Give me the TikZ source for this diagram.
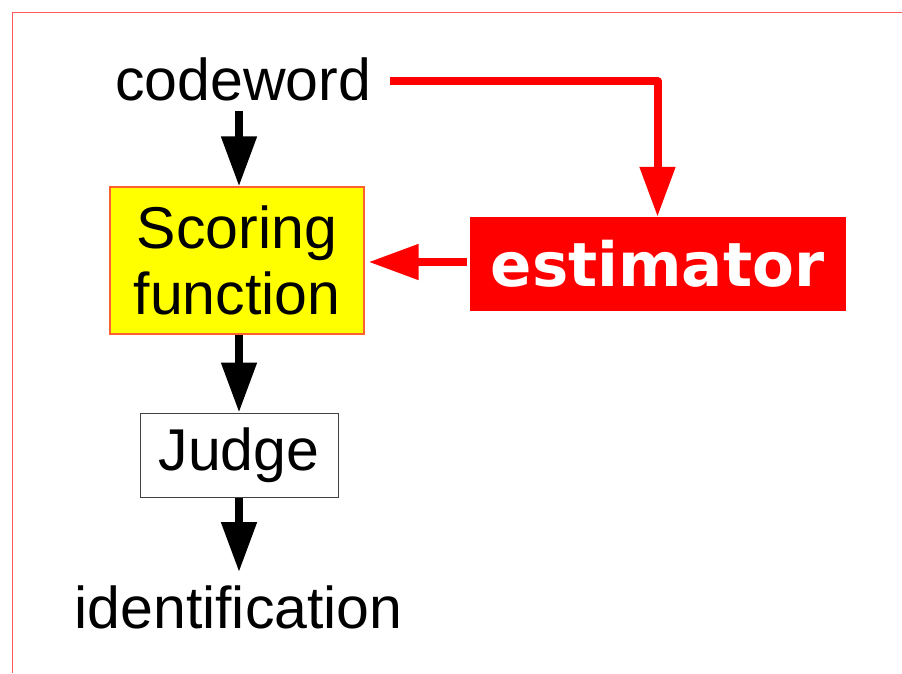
\documentclass[tikz,border=0pt]{standalone}
\usepackage{fontspec}
\setmainfont{Liberation Sans}
\newfontfamily\estfont{DejaVu Sans}
\usetikzlibrary{arrows.meta}
\definecolor{framered}{HTML}{FF5A5A}
\definecolor{boxyellow}{HTML}{FFFF00}
\definecolor{edgeorange}{HTML}{FF6030}
\tikzset{
  lbl/.style={font=\fontsize{59}{66}\selectfont, inner sep=0pt, anchor=base},
  flowbox/.style={draw, inner sep=0pt, align=center, font=\fontsize{59}{66}\selectfont},
  blackarrow/.style={line width=8pt, -{Triangle[width=34pt,length=50pt]}},
  redarrow/.style={draw=red, line width=8pt, line join=round, -{Triangle[width=34pt,length=50pt]}, color=red},
}
\begin{document}
\begin{tikzpicture}[x=1pt,y=-1pt]
  \useasboundingbox (0,0) rectangle (902,673);
  % frame lines along the top and left edges
  \draw[framered, line width=1.2pt] (12.5,673) -- (12.5,12.5) -- (902,12.5);

  % text labels
  \node[lbl] (cw) at (243,100) {codeword};
  \node[lbl] (id) at (238.5,628) {identification};

  % boxes
  \node[flowbox, draw=edgeorange, line width=1.2pt, fill=boxyellow,
        minimum width=254pt, minimum height=147pt] (sf) at (237,260.5)
        {Scoring\\function};
  \node[flowbox, draw=black!75, line width=1pt, fill=white,
        minimum width=198pt, minimum height=84pt] (jd) at (239,455)
        {\raisebox{-4pt}{Judge}};
  \node[flowbox, draw=red, fill=red, text=white,
        font=\estfont\bfseries\fontsize{61}{66}\selectfont,
        minimum width=375pt, minimum height=93pt] (est) at (657.5,263.5)
        {estimator};

  % helper points for the connector ends
  \coordinate (cwS) at ([yshift=-10pt]cw.south -| jd.north);
  \coordinate (cwE) at ([xshift=19pt,yshift=-2pt]cw.east);
  \coordinate (idN) at ([yshift=13pt]id.north -| jd.south);
  \coordinate (estW) at ([yshift=1.5pt]est.west);

  % black flow
  \draw[blackarrow] (cwS) -- (sf.north -| jd.north);
  \draw[blackarrow] (sf.south -| jd.north) -- (jd.north);
  \draw[blackarrow] (jd.south) -- (idN);

  % red feedback path
  \draw[redarrow] (cwE) -| (est.north);
  \draw[redarrow, shorten >=4pt, shorten <=3pt] (estW) -- (estW -| sf.east);
\end{tikzpicture}
\end{document}
